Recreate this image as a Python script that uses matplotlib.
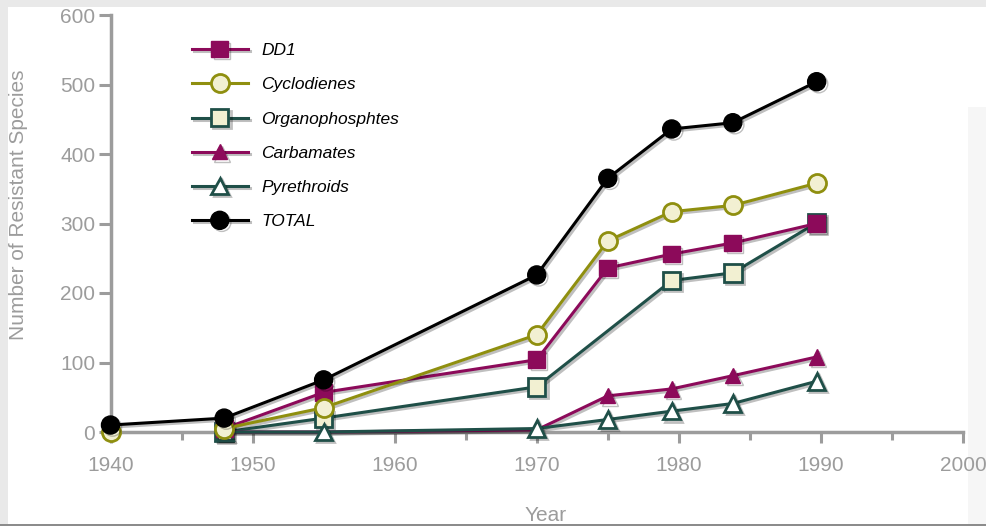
import matplotlib
matplotlib.use("Agg")
import matplotlib.pyplot as plt
import matplotlib.patheffects as pe
from matplotlib.patches import Rectangle
import numpy as np

plt.rcParams['font.family'] = ['Liberation Sans', 'DejaVu Sans']

# ---- data ----
total_years = [1940, 1948, 1955, 1970, 1975, 1979.5, 1983.8, 1989.7]
total_vals = [10, 20, 75, 226, 365, 436, 445, 504]

ddt_years = [1948, 1955, 1970, 1975, 1979.5, 1983.8, 1989.7]
ddt_vals = [5, 57, 104, 236, 256, 272, 300]

cyc_years = [1940, 1948, 1955, 1970, 1975, 1979.5, 1983.8, 1989.7]
cyc_vals = [0, 5, 35, 140, 275, 317, 326, 358]

org_years = [1948, 1955, 1970, 1979.5, 1983.8, 1989.7]
org_vals = [0, 20, 65, 218, 229, 301]

carb_years = [1948, 1955, 1970, 1975, 1979.5, 1983.8, 1989.7]
carb_vals = [0, 0, 3, 52, 62, 81, 108]

pyr_years = [1948, 1955, 1970, 1975, 1979.5, 1983.8, 1989.7]
pyr_vals = [0, 0, 5, 18, 30, 41, 73]

labels = ["DD1", "Cyclodienes", "Organophosphtes", "Carbamates", "Pyrethroids", "TOTAL"]
x_ticks = [1940, 1950, 1960, 1970, 1980, 1990, 2000]
y_ticks = [0, 100, 200, 300, 400, 500, 600]

# ---- styling ----
W, H = 986, 526
L, R, T, B = 110.5, 963, 15, 432
fig = plt.figure(figsize=(W / 100, H / 100), dpi=100)
fig.patch.set_facecolor("#e9e9e9")


def px_rect(x0, y0, x1, y1, color, z):
    fig.patches.append(Rectangle((x0 / W, 1 - y1 / H), (x1 - x0) / W, (y1 - y0) / H,
                                 transform=fig.transFigure, facecolor=color,
                                 edgecolor="none", zorder=z))


px_rect(8, 7, W, 524, "white", -5)
px_rect(968, 107, W, 524, "#f6f6f6", -4)
px_rect(0, 524, W, H, "#8c8c8c", -4)

ax = fig.add_axes([L / W, 1 - B / H, (R - L) / W, (B - T) / H])
ax.set_zorder(2)
ax.set_facecolor("none")

magenta = "#8c0a5a"
olive = "#8f8f0f"
teal = "#1f4f48"
cream = "#f2f0d2"

shadow = [pe.SimpleLineShadow(offset=(1.5, -1.5), alpha=0.25, shadow_color="black"), pe.Normal()]
lw = 2.2

h_ddt, = ax.plot(ddt_years, ddt_vals, color=magenta, lw=lw, marker="s", ms=12,
                 mfc=magenta, mec=magenta, path_effects=shadow, zorder=4, clip_on=False)
ax.plot(cyc_years[1:], cyc_vals[1:], color=olive, lw=lw, zorder=4, path_effects=shadow,
        clip_on=False)
ax.plot(cyc_years, cyc_vals, ls="none", marker="o", ms=13, mfc=cream, mec=olive,
        mew=2, zorder=4, clip_on=False)
h_cyc, = ax.plot([], [], color=olive, lw=lw, marker="o", ms=13, mfc=cream, mec=olive, mew=2)
h_org, = ax.plot(org_years, org_vals, color=teal, lw=lw, marker="s", ms=12.5,
                 mfc=cream, mec=teal, mew=2, path_effects=shadow, zorder=3, clip_on=False)
h_carb, = ax.plot(carb_years, carb_vals, color=magenta, lw=lw, marker="^", ms=11,
                  mfc=magenta, mec=magenta, path_effects=shadow, zorder=3,
                  markevery=[0, 3, 4, 5, 6], clip_on=False)
h_pyr, = ax.plot(pyr_years, pyr_vals, color=teal, lw=lw, marker="^", ms=12,
                 mfc="white", mec=teal, mew=2, path_effects=shadow, zorder=3, clip_on=False)
h_tot, = ax.plot(total_years, total_vals, color="black", lw=lw, marker="o", ms=13,
                 mfc="black", mec="black", path_effects=shadow, zorder=5, clip_on=False)

ax.set_xlim(1940, 2000)
ax.set_ylim(0, 600)
ax.set_xticks(x_ticks)
ax.set_xticks([1945, 1955, 1965, 1975, 1985, 1995], minor=True)
ax.set_yticks(y_ticks)

gray = "#9c9c9c"
for s in ["top", "right"]:
    ax.spines[s].set_visible(False)
for s in ["left", "bottom"]:
    ax.spines[s].set_color(gray)
    ax.spines[s].set_linewidth(2.5)
ax.tick_params(axis="y", which="major", length=9, width=2.2, color=gray,
               labelcolor=gray, labelsize=15, pad=2)
ax.tick_params(axis="x", which="major", length=8, width=2.2, color=gray,
               labelcolor=gray, labelsize=15, pad=9)
ax.tick_params(axis="x", which="minor", length=6, width=2.2, color=gray)

ax.set_xlabel("Year", color=gray, fontsize=15)
ax.xaxis.set_label_coords((546 - L) / (R - L), -(506 - B) / (B - T))
ax.set_ylabel("Number of Resistant Species", color=gray, fontsize=15)
ax.yaxis.set_label_coords(-(L - 28) / (R - L), (B - 205) / (B - T))

leg = ax.legend([h_ddt, h_cyc, h_org, h_carb, h_pyr, h_tot], labels,
                loc="upper left", bbox_to_anchor=(192 / W, 1 - 43 / H),
                bbox_transform=fig.transFigure, frameon=False, borderpad=0,
                borderaxespad=0, handlelength=3.2, handletextpad=0.8,
                labelspacing=1.1, prop={"style": "italic", "size": 12.5})

fig.savefig("out.png", dpi=100, facecolor=fig.get_facecolor())
